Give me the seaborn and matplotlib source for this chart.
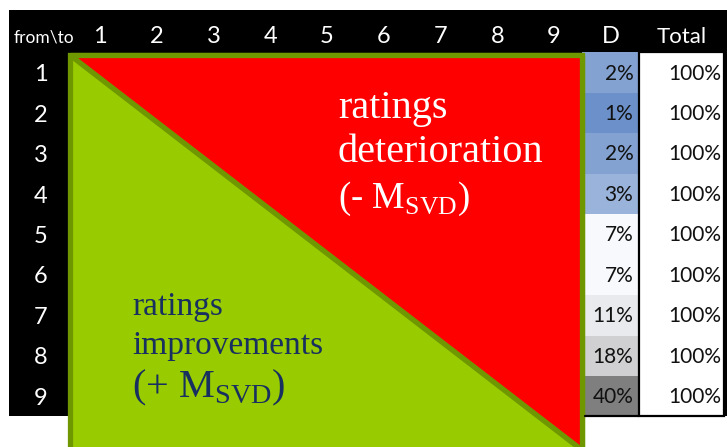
import matplotlib
matplotlib.use("Agg")
import numpy as np
import pandas as pd
import matplotlib.pyplot as plt
import seaborn as sns
from matplotlib.colors import LinearSegmentedColormap, TwoSlopeNorm, ListedColormap
from matplotlib.patches import Rectangle, Polygon

# ---- data -------------------------------------------------------------
from_ratings = ["1", "2", "3", "4", "5", "6", "7", "8", "9"]
to_ratings = ["1", "2", "3", "4", "5", "6", "7", "8", "9"]
default_col = "D"
total_col = "Total"
corner_label = "from\\to"
default_share = [2, 1, 2, 3, 7, 7, 11, 18, 40]      # % migrating to default
total_share = [100, 100, 100, 100, 100, 100, 100, 100, 100]
upper_label = ["ratings", "deterioration", r"(- M$_\mathregular{SVD}$)"]
lower_label = ["ratings", "improvements", r"(+ M$_\mathregular{SVD}$)"]

# ---- style ------------------------------------------------------------
sns.set_theme(style="white")
plt.rcParams["font.family"] = ["Lato", "DejaVu Sans"]
plt.rcParams["mathtext.fontset"] = "custom"
plt.rcParams["mathtext.rm"] = "Liberation Serif"

RED = "#ff0000"
GREEN = "#99cc00"
OLIVE = "#6f9700"
NAVY = "#17305f"

fig = plt.figure(figsize=(7.27, 4.47), dpi=100)
fig.patch.set_facecolor("white")

XLIM = (-1.262, 11.55)
YLIM = (9.755, -1.298)
n = len(from_ratings)

# background layer: black header row / column
ax = fig.add_axes([0, 0, 1, 1])
ax.set_xlim(*XLIM)
ax.set_ylim(*YLIM)
ax.axis("off")
ax.add_patch(Rectangle((-1.103, -1.051), XLIM[1] + 1.103, n + 1.051,
                       facecolor="black", edgecolor="none"))

hdr_y = -0.235
ax.text(-1.015, hdr_y, corner_label, color="white", fontsize=12.5,
        ha="left", va="baseline")
for j, lab in enumerate(to_ratings):
    ax.text(j + 0.5, hdr_y, lab, color="white", fontsize=17,
            ha="center", va="baseline")
ax.text(n + 0.5, hdr_y, default_col, color="white", fontsize=17,
        ha="center", va="baseline")
ax.text(10.756, hdr_y, total_col, color="white", fontsize=16,
        ha="center", va="baseline")
for i, lab in enumerate(from_ratings):
    ax.text(-0.55, i + 0.55, lab, color="white", fontsize=17,
            ha="center", va="center")

fig.canvas.draw()


def fig_rect(x0, y0, x1, y1):
    inv = fig.transFigure.inverted()
    (a, b), (c, d) = inv.transform(ax.transData.transform([(x0, y0), (x1, y1)]))
    return [min(a, c), min(b, d), abs(c - a), abs(d - b)]


# default column as a heatmap
cmap_d = LinearSegmentedColormap.from_list(
    "blue_white_grey", ["#6c91ca", "#f8f9fc", "#7f7f7f"])
norm_d = TwoSlopeNorm(vmin=1, vcenter=7, vmax=40)
df_d = pd.DataFrame({default_col: default_share}, index=from_ratings)
ax_d = fig.add_axes(fig_rect(n, 0, n + 1, n))
sns.heatmap(df_d, ax=ax_d, cmap=cmap_d, norm=norm_d, cbar=False,
            annot=np.array([[f"{v}%"] for v in default_share]), fmt="",
            annot_kws={"color": "#111111", "fontsize": 15})
ax_d.set_axis_off()

# total column as a heatmap
df_t = pd.DataFrame({total_col: total_share}, index=from_ratings)
ax_t = fig.add_axes(fig_rect(n + 1, 0, 11.5, n))
sns.heatmap(df_t, ax=ax_t, cmap=ListedColormap(["white"]), cbar=False,
            annot=np.array([[f"{v}%"] for v in total_share]), fmt="",
            annot_kws={"color": "#111111", "fontsize": 15})
ax_t.set_axis_off()

for hax, xr in ((ax_d, 0.9), (ax_t, 0.965)):
    for t in hax.texts:
        x, y = t.get_position()
        t.set_position((xr, y + 0.02))
        t.set_ha("right")

# top layer: borders, triangle overlay and labels
top = fig.add_axes([0, 0, 1, 1])
top.set_xlim(*XLIM)
top.set_ylim(*YLIM)
top.axis("off")
top.patch.set_alpha(0)

top.add_patch(Rectangle((n + 1, 0), 1.5, n, facecolor="none",
                        edgecolor="black", linewidth=1.6))
top.plot([n + 0.05, n + 1], [n, n], color="black", linewidth=1.6)

bx0, bx1, by0, by1 = -0.037, 9.0, 0.074, 9.84
top.add_patch(Rectangle((bx0, by0), bx1 - bx0, by1 - by0, facecolor=GREEN,
                        edgecolor=OLIVE, linewidth=3.8))
top.add_patch(Polygon([(bx0, by0), (bx1, by0), (bx1, by1)], closed=True,
                      facecolor=RED, edgecolor=OLIVE, linewidth=3.8,
                      joinstyle="bevel"))

for txt, yb, fs in zip(upper_label, (1.62, 2.70, 3.84), (29, 29, 26.5)):
    top.text(4.694, yb, txt, color="white", fontsize=fs,
             family="Liberation Serif", ha="left", va="baseline")
for txt, yb, fs in zip(lower_label, (6.49, 7.46, 8.53), (24, 24, 29)):
    top.text(1.064, yb, txt, color=NAVY, fontsize=fs,
             family="Liberation Serif", ha="left", va="baseline")

fig.savefig("out.png", dpi=100)
